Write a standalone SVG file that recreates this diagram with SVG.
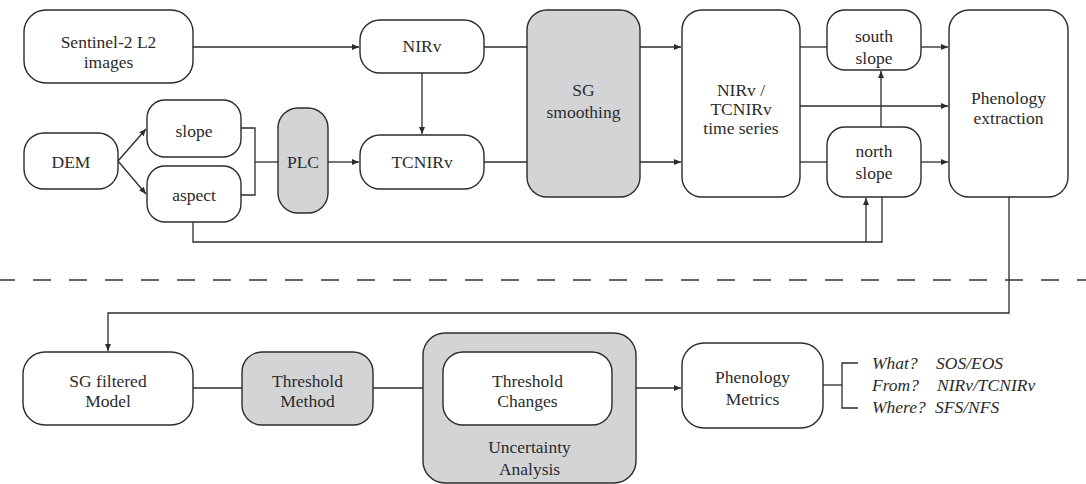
<svg xmlns="http://www.w3.org/2000/svg" width="1086" height="484" viewBox="0 0 1086 484">
<defs>
<marker id="ah" markerWidth="8" markerHeight="6" refX="7" refY="3" orient="auto" markerUnits="userSpaceOnUse">
<path d="M0,0 L7,3 L0,6 z" fill="#2b2b2b"/>
</marker>
<style>
.box{fill:#fff;stroke:#2b2b2b;stroke-width:1.4}
.gray{fill:#d3d4d6;stroke:#2b2b2b;stroke-width:1.4}
.t,.it{font-size:17.5px;fill:#2b2b2b}
.t{text-anchor:middle}
.it{font-style:italic}
.c{fill:none;stroke:#2b2b2b;stroke-width:1.3}
.a{marker-end:url(#ah)}
</style>
</defs>
<rect width="1086" height="484" fill="#fff"/>
<g id="connectors">
<path class="c a" d="M193 47 H359"/>
<path class="c a" d="M422 73 V134"/>
<path class="c" d="M484 47 H527"/>
<path class="c" d="M484 162 H527"/>
<path class="c a" d="M118 161 L146 129"/>
<path class="c a" d="M118 161 L146 194"/>
<path class="c" d="M241 128 H255 V195 H241"/>
<path class="c" d="M255 162 H278"/>
<path class="c a" d="M328 162 H359"/>
<path class="c a" d="M640 47 H681"/>
<path class="c a" d="M640 162 H681"/>
<path class="c" d="M800 47 H827"/>
<path class="c" d="M800 162 H827"/>
<path class="c a" d="M800 106 H948"/>
<path class="c a" d="M921 47 H948"/>
<path class="c a" d="M921 162 H948"/>
<path class="c a" d="M881 127 V71"/>
<path class="c" d="M193 222 V242 H882 V197"/>
<path class="c a" d="M866 242 V198"/>
<path class="c a" d="M1009 197 V313 H108 V351"/>
<path class="c" d="M193 388 H242"/>
<path class="c" d="M373 388 H443"/>
<path class="c a" d="M612 388 H681"/>
<path class="c" d="M823 385 H842"/>
<path class="c" d="M858 363 H842 V408 H858"/>
<path d="M-3 280 H1086" fill="none" stroke="#333" stroke-width="1.3" stroke-dasharray="18 18"/>
</g>
<g font-family="Liberation Serif, Tinos, Noto Serif, DejaVu Serif, FreeSerif, Times New Roman, Times, serif">
<g id="sentinel"><rect class="box" x="24" y="10" width="169" height="73" rx="22"/><text class="t" x="108.5" y="48">Sentinel-2 L2</text><text class="t" x="108.5" y="68">images</text></g>
<g id="nirv"><rect class="box" x="360" y="20" width="124" height="53" rx="20"/><text class="t" x="422" y="52">NIRv</text></g>
<g id="tcnirv"><rect class="box" x="360" y="135" width="124" height="54" rx="20"/><text class="t" x="422" y="168">TCNIRv</text></g>
<g id="sg-smoothing"><rect class="gray" x="527" y="10" width="113" height="187" rx="20"/><text class="t" x="583.5" y="96">SG</text><text class="t" x="583.5" y="118">smoothing</text></g>
<g id="timeseries"><rect class="box" x="682" y="10" width="118" height="187" rx="20"/><text class="t" x="741" y="96">NIRv /</text><text class="t" x="741" y="115">TCNIRv</text><text class="t" x="741" y="134">time series</text></g>
<g id="south-slope"><rect class="box" x="827" y="10" width="94" height="60" rx="18"/><text class="t" x="874" y="42">south</text><text class="t" x="874" y="64">slope</text></g>
<g id="north-slope"><rect class="box" x="827" y="127" width="94" height="70" rx="18"/><text class="t" x="874" y="157">north</text><text class="t" x="874" y="179">slope</text></g>
<g id="phenology-extraction"><rect class="box" x="949" y="10" width="119" height="187" rx="20"/><text class="t" x="1008.5" y="104">Phenology</text><text class="t" x="1008.5" y="124">extraction</text></g>
<g id="dem"><rect class="box" x="24" y="133" width="94" height="56" rx="20"/><text class="t" x="71" y="168">DEM</text></g>
<g id="slope"><rect class="box" x="147" y="100" width="94" height="57" rx="18"/><text class="t" x="194" y="137">slope</text></g>
<g id="aspect"><rect class="box" x="147" y="166" width="94" height="56" rx="18"/><text class="t" x="194" y="201">aspect</text></g>
<g id="plc"><rect class="gray" x="278" y="108" width="50" height="105" rx="20"/><text class="t" x="303" y="168">PLC</text></g>
<g id="sg-filtered"><rect class="box" x="23" y="352" width="170" height="73" rx="22"/><text class="t" x="108" y="387">SG filtered</text><text class="t" x="108" y="407">Model</text></g>
<g id="threshold-method"><rect class="gray" x="242" y="352" width="131" height="73" rx="20"/><text class="t" x="307.5" y="387">Threshold</text><text class="t" x="307.5" y="407">Method</text></g>
<g id="uncertainty"><rect class="gray" x="423" y="333" width="213" height="150" rx="22"/><text class="t" x="529.5" y="453">Uncertainty</text><text class="t" x="529.5" y="475">Analysis</text></g>
<g id="threshold-changes"><rect class="box" x="443" y="352" width="169" height="73" rx="20"/><text class="t" x="527.5" y="387">Threshold</text><text class="t" x="527.5" y="407">Changes</text></g>
<g id="phenology-metrics"><rect class="box" x="682" y="343" width="141" height="85" rx="22"/><text class="t" x="752.5" y="383">Phenology</text><text class="t" x="752.5" y="405">Metrics</text></g>
<g id="metrics-list">
<text class="it" x="872" y="369">What?</text><text class="it" x="936" y="369">SOS/EOS</text>
<text class="it" x="872" y="391">From?</text><text class="it" x="937" y="391">NIRv/TCNIRv</text>
<text class="it" x="872" y="413">Where?</text><text class="it" x="935" y="413">SFS/NFS</text>
</g>
</g>
</svg>
